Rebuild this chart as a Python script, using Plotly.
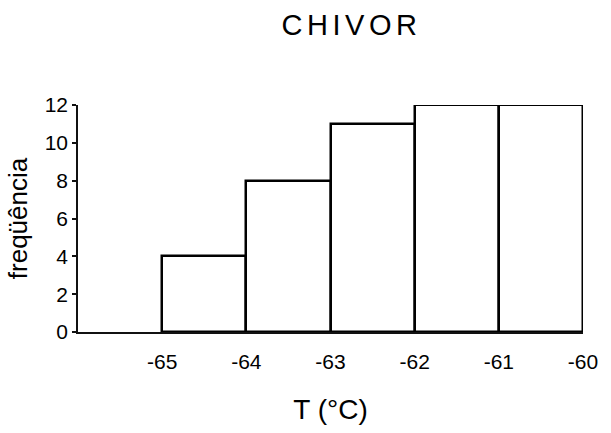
import plotly.graph_objects as go

# Histogram of temperatures at CHIVOR
bin_edges = [-65, -64, -63, -62, -61, -60]
counts = [4, 8, 11, 12, 12]
tick_labels = ["-65", "-64", "-63", "-62", "-61", "-60"]
y_ticks = [0, 2, 4, 6, 8, 10, 12]

centers = [(a + b) / 2 for a, b in zip(bin_edges[:-1], bin_edges[1:])]
widths = [b - a for a, b in zip(bin_edges[:-1], bin_edges[1:])]

font_family = "Liberation Sans, Arial, sans-serif"

fig = go.Figure(
    go.Bar(
        x=centers,
        y=counts,
        width=widths,
        marker=dict(color="white", line=dict(color="#000", width=2.5)),
        showlegend=False,
    )
)

fig.update_layout(
    width=611,
    height=433,
    margin=dict(l=78, r=28, t=105, b=101),
    paper_bgcolor="white",
    plot_bgcolor="white",
    font=dict(family=font_family, color="#000"),
    bargap=0,
    title=dict(
        text='<span style="letter-spacing:4.5px">CHIVOR</span>',
        font=dict(size=29, family=font_family, color="#000"),
        x=0.5416,
        xanchor="center",
        xref="paper",
        yref="container",
        y=1 - 25 / 433,
        yanchor="middle",
    ),
)

fig.update_xaxes(
    range=[-66, -60],
    tickmode="array",
    tickvals=bin_edges,
    ticktext=tick_labels,
    ticks="",
    ticklabelstandoff=10,
    showgrid=False,
    zeroline=False,
    showline=True,
    linecolor="#111",
    linewidth=2,
    tickfont=dict(size=21),
    title=dict(text="T (°C)", font=dict(size=28), standoff=27),
)

fig.update_yaxes(
    range=[0, 12],
    tickmode="array",
    tickvals=y_ticks,
    ticks="outside",
    ticklen=4,
    tickwidth=1.5,
    tickcolor="#111",
    showgrid=False,
    zeroline=False,
    showline=True,
    linecolor="#111",
    linewidth=1.5,
    tickfont=dict(size=21),
    title=dict(text="freqüência", font=dict(size=26), standoff=10),
)

fig.write_html("out.html")
